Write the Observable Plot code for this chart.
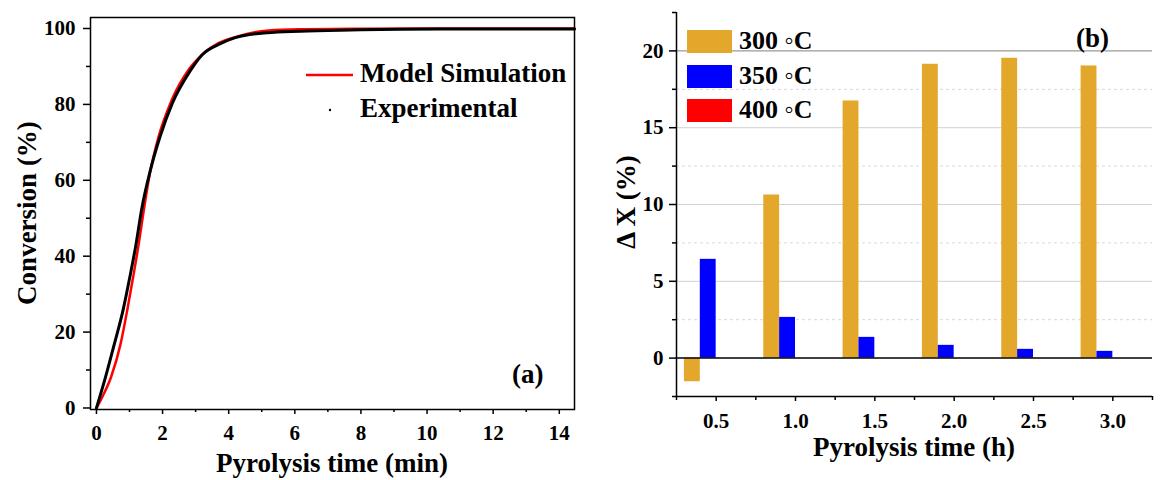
<!DOCTYPE html>
<html>
<head>
<meta charset="utf-8">
<script src="https://cdn.jsdelivr.net/npm/d3@7"></script>
<script src="https://cdn.jsdelivr.net/npm/@observablehq/plot@0.6"></script>
<style>
  html, body { margin: 0; padding: 0; background: #ffffff; }
  #wrap { position: relative; width: 1166px; height: 480px; overflow: hidden; }
  #left, #right { position: absolute; top: 0; }
  #left { left: 0; }
  #right { left: 590px; }
</style>
</head>
<body>
<div id="wrap"><div id="left"></div><div id="right"></div></div>
<script>
// ---------- Panel (a): conversion vs pyrolysis time ----------
const simTime = [0, 0.07, 0.2, 0.44, 0.73, 0.93, 1.11, 1.28, 1.43, 1.61, 1.88, 2.27, 2.82, 3.25, 3.7, 4.3, 5.2, 6.2, 8, 10, 12, 14.46];
const simConv = [0, 1.1, 3.3, 8.1, 16.9, 25.7, 34.5, 43.3, 52, 61.5, 71.5, 81, 89.5, 93.5, 96.2, 98, 99.5, 99.8, 99.95, 100, 100, 100];
const expTime = [0, 0.27, 0.54, 0.81, 1.01, 1.2, 1.36, 1.63, 1.92, 2.29, 2.84, 3.2, 3.75, 4.2, 5.16, 6.17, 7.69, 9.2, 11, 13, 14.46];
const expConv = [0, 8.0, 16.8, 26.0, 34.5, 43.3, 52, 62.6, 71.4, 80.2, 88.9, 93.1, 96, 97.6, 98.9, 99.3, 99.6, 99.8, 99.85, 99.9, 99.9];
const aXTicks = [0, 2, 4, 6, 8, 10, 12, 14];
const aXMinor = [1, 3, 5, 7, 9, 11, 13];
const aYTicks = [0, 20, 40, 60, 80, 100];
const aYMinor = [10, 30, 50, 70, 90];

// ---------- Panel (b): delta X vs pyrolysis time ----------
const hours = [0.5, 1.0, 1.5, 2.0, 2.5, 3.0];
const dx300 = [-1.54, 10.62, 16.74, 19.13, 19.52, 19.02];
const dx350 = [6.43, 2.65, 1.35, 0.83, 0.57, 0.44];
const dx400 = [0, 0, 0, 0, 0, 0];
const seriesNames = ["300 ◦C", "350 ◦C", "400 ◦C"];
const seriesColors = ["#E3A82B", "#0000FF", "#FF0000"];
const bXTicks = [0.5, 1.0, 1.5, 2.0, 2.5, 3.0];
const bXMinor = [0.25, 0.75, 1.25, 1.75, 2.25, 2.75, 3.25];
const bYTicks = [0, 5, 10, 15, 20];
const bYMinor = [-2.5, 2.5, 7.5, 12.5, 17.5, 22.5];

const FONT = "'Liberation Serif', 'Times New Roman', serif";

const simData = simTime.map((t, i) => ({t, v: simConv[i]}));
const expData = expTime.map((t, i) => ({t, v: expConv[i]}));

const plotA = Plot.plot({
  width: 590, height: 480,
  marginLeft: 90, marginTop: 17, marginRight: 16, marginBottom: 71,
  style: {fontFamily: FONT, fontWeight: "bold", background: "transparent", color: "#000"},
  x: {domain: [-0.18, 14.46], axis: null},
  y: {domain: [-0.4, 102.9], axis: null},
  marks: [
    Plot.line(simData, {x: "t", y: "v", stroke: "#FF0000", strokeWidth: 2.5, curve: "monotone-x"}),
    Plot.line(expData, {x: "t", y: "v", stroke: "#000000", strokeWidth: 3, curve: "monotone-x"}),
    Plot.frame({stroke: "#000", strokeWidth: 1.5}),
    Plot.axisX({ticks: aXTicks, tickSize: 5, tickPadding: 11, fontSize: 21, strokeWidth: 1.5, label: null, tickFormat: d => String(d)}),
    Plot.axisX({ticks: aXMinor, tickSize: 3, strokeWidth: 1.5, label: null, tickFormat: () => ""}),
    Plot.axisY({ticks: aYTicks, tickSize: 7, tickPadding: 8, fontSize: 21, strokeWidth: 1.5, label: null, tickFormat: d => String(d)}),
    Plot.axisY({ticks: aYMinor, tickSize: 4, strokeWidth: 1.5, label: null, tickFormat: () => ""})
  ]
});
document.getElementById("left").appendChild(plotA);

// overlays for panel (a)
{
  const s = d3.select(plotA);
  const g = s.append("g").attr("font-family", FONT).attr("font-weight", "bold").attr("fill", "#000").attr("text-anchor", "start");
  g.append("text").attr("x", 332).attr("y", 472).attr("text-anchor", "middle").attr("font-size", 27).text("Pyrolysis time (min)");
  g.append("text").attr("transform", "translate(36,213) rotate(-90)").attr("text-anchor", "middle").attr("font-size", 27).text("Conversion (%)");
  g.append("line").attr("x1", 306).attr("x2", 353).attr("y1", 75).attr("y2", 75).attr("stroke", "#FF0000").attr("stroke-width", 2.5);
  g.append("text").attr("x", 360).attr("y", 82).attr("font-size", 27).text("Model Simulation");
  g.append("circle").attr("cx", 330).attr("cy", 110).attr("r", 1.2).attr("fill", "#000");
  g.append("text").attr("x", 360).attr("y", 117).attr("font-size", 27).text("Experimental");
  g.append("text").attr("x", 512).attr("y", 383).attr("font-size", 27).text("(a)");
}

const offsets = [[-0.2, -0.1], [-0.1, 0], [0, 0.1]];
const barData = [];
[dx300, dx350, dx400].forEach((vals, s) => {
  hours.forEach((h, i) => barData.push({h, v: vals[i], s}));
});

const plotB = Plot.plot({
  width: 576, height: 480,
  marginLeft: 86, marginTop: 12, marginRight: 14, marginBottom: 84,
  style: {fontFamily: FONT, fontWeight: "bold", background: "transparent", color: "#000"},
  x: {domain: [0.25, 3.25], axis: null},
  y: {domain: [-2.5, 22.5], axis: null},
  marks: [
    Plot.ruleY(bYMinor.filter(d => d > -2.5 && d < 22.5), {stroke: "#d8d8d8", strokeWidth: 1, strokeDasharray: "3,3"}),
    Plot.ruleY([5, 10, 15], {stroke: "#d4d0d4", strokeWidth: 1}),
    Plot.ruleY([20], {stroke: "#9a9a9a", strokeWidth: 1.2}),
    Plot.rect(barData, {
      x1: d => d.h + offsets[d.s][0],
      x2: d => d.h + offsets[d.s][1],
      y1: 0, y2: "v",
      fill: d => seriesColors[d.s]
    }),
    Plot.ruleY([0], {stroke: "#000", strokeWidth: 1.5}),
    Plot.ruleX([0.25], {stroke: "#000", strokeWidth: 1.5}),
    Plot.ruleY([-2.5], {stroke: "#000", strokeWidth: 1.5}),
    Plot.axisX({ticks: bXTicks, tickSize: 5, tickPadding: 12, fontSize: 21, strokeWidth: 1.5, label: null, tickFormat: d => d.toFixed(1)}),
    Plot.axisX({ticks: bXMinor, tickSize: 4, strokeWidth: 1.5, label: null, tickFormat: () => ""}),
    Plot.axisY({ticks: bYTicks, tickSize: 7, tickPadding: 6, fontSize: 21, strokeWidth: 1.5, label: null, tickFormat: d => String(d)}),
    Plot.axisY({ticks: bYMinor, tickSize: 4, strokeWidth: 1.5, label: null, tickFormat: () => ""})
  ]
});
document.getElementById("right").appendChild(plotB);

// overlays for panel (b)  (coordinates relative to the right svg, which starts at x=590)
{
  const s = d3.select(plotB);
  const g = s.append("g").attr("font-family", FONT).attr("font-weight", "bold").attr("fill", "#000").attr("text-anchor", "start");
  g.append("text").attr("x", 914 - 590).attr("y", 456).attr("text-anchor", "middle").attr("font-size", 27).text("Pyrolysis time (h)");
  g.append("text").attr("transform", `translate(${635 - 590},202) rotate(-90)`).attr("text-anchor", "middle").attr("font-size", 27).text("Δ X (%)");
  g.append("text").attr("x", 1076 - 590).attr("y", 47).attr("font-size", 27).text("(b)");
  const legTop = [30, 65, 99];
  seriesNames.forEach((name, i) => {
    g.append("rect").attr("x", 687 - 590).attr("y", legTop[i]).attr("width", 45).attr("height", 23).attr("fill", seriesColors[i]);
    g.append("text").attr("x", 739 - 590).attr("y", legTop[i] + 18.5).attr("font-size", 26).text(name);
  });
}
</script>
</body>
</html>
